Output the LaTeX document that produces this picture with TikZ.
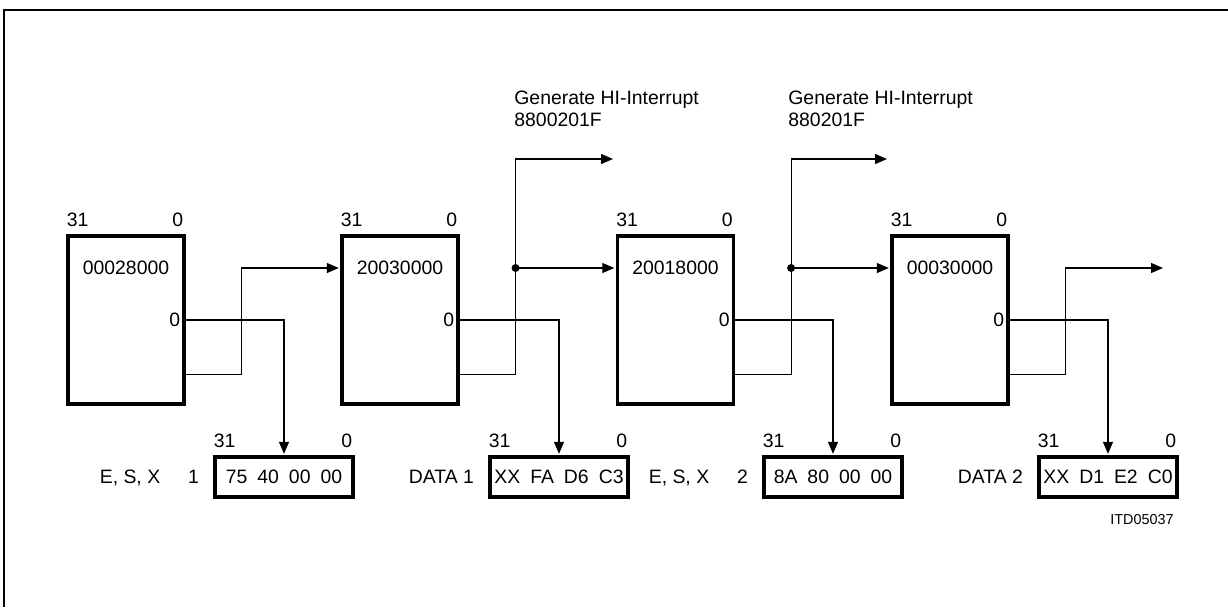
\documentclass[tikz,border=0pt]{standalone}
\usepackage{fontspec}
\setmainfont{Liberation Sans}
\usetikzlibrary{arrows.meta}
\newcommand{\bytesep}{\hspace{5pt}}

\begin{document}
\begin{tikzpicture}[x=0.5pt, y=-0.5pt, >={Triangle[length=6pt,width=5pt]},
    font=\fontsize{9.7}{11}\selectfont,
    reg/.style={draw, line width=1.6pt, minimum width=58pt, minimum height=84pt, inner sep=0pt},
    word/.style={draw, line width=1.6pt, minimum width=69pt, minimum height=20pt, inner sep=0pt},
    bit/.style={inner sep=0pt},
    wire/.style={line width=0.6pt}]
    \useasboundingbox (0,0) rectangle (1228,607);

    % Frame (only its top and left edges are on the page)
    \draw[line width=1pt] (4,607) -- (4,10) -- (1228,10);

    % Registers with bit numbering
    \foreach \i/\x/\val in {1/126/00028000, 2/400/20030000, 3/675.5/20018000, 4/950/00030000} {
        \node[reg] (reg\i) at (\x,320) {};
        \node[bit, anchor=base west] (regmsb\i) at ([yshift=4pt]reg\i.north west) {31};
        \node[bit, anchor=base east] (reglsb\i) at ([xshift=-1pt, yshift=4pt]reg\i.north east) {0};
        \node[bit] (regval\i) at (\x,268) {\val};
        \node[bit, anchor=east] (regbit\i) at ([xshift=-2.5pt]reg\i.east) {0};
    }

    % Result words
    \foreach \i/\x/\name/\bytes in {1/284/{E, S, X\hspace{14pt}1}/{75\bytesep 40\bytesep 00\bytesep 00},
            2/559/{DATA 1}/{XX\bytesep FA\bytesep D6\bytesep C3},
            3/833/{E, S, X\hspace{14pt}2}/{8A\bytesep 80\bytesep 00\bytesep 00},
            4/1108/{DATA 2}/{XX\bytesep D1\bytesep E2\bytesep C0}} {
        \node[word] (word\i) at (\x,477) {\bytes};
        \node[bit, anchor=base west] (wordmsb\i) at ([yshift=4pt]word\i.north west) {31};
        \node[bit, anchor=base east] (wordlsb\i) at ([xshift=-1pt, yshift=4pt]word\i.north east) {0};
        \node[bit, anchor=base east] (wordname\i) at ([xshift=-7pt]word\i.base west) {\name};
    }

    % Bit 0 down to the words
    \foreach \i in {1,...,4}
        \draw[wire, ->, shorten >=0.8pt] (reg\i.east) -| (word\i.north);

    % Free ends
    \coordinate (irq2) at (613,159);
    \coordinate (irq3) at (887,159);
    \coordinate (next) at (1163,268);

    % Chaining
    \draw[wire, ->, shorten >=0.8pt] ([yshift=15.5pt]reg1.south east) -- ++(28pt,0) |- (reg2.west |- regval2);
    \draw[wire, ->] ([yshift=15.5pt]reg2.south east) -- ++(28pt,0) coordinate (tap2) |- (irq2);
    \draw[wire, ->, shorten >=0.8pt] (tap2 |- regval3) -- (reg3.west |- regval3);
    \fill (tap2 |- regval3) circle (2pt);
    \draw[wire, ->] ([yshift=15.5pt]reg3.south east) -- ++(28pt,0) coordinate (tap3) |- (irq3);
    \draw[wire, ->, shorten >=0.8pt] (tap3 |- regval4) -- (reg4.west |- regval4);
    \fill (tap3 |- regval4) circle (2pt);
    \draw[wire, ->] ([yshift=15.5pt]reg4.south east) -- ++(28pt,0) |- (next);

    % Interrupt notes (base = last line)
    \node[bit, anchor=base west, align=left] (irqtxt2) at (514,126.5) {Generate HI-Interrupt\\8800201F};
    \node[bit, anchor=base west, align=left] (irqtxt3) at (788,126.5) {Generate HI-Interrupt\\880201F};

    \node[bit, anchor=east, font=\fontsize{7.2}{8}\selectfont] (code) at (1174,520) {ITD05037};
\end{tikzpicture}
\end{document}
